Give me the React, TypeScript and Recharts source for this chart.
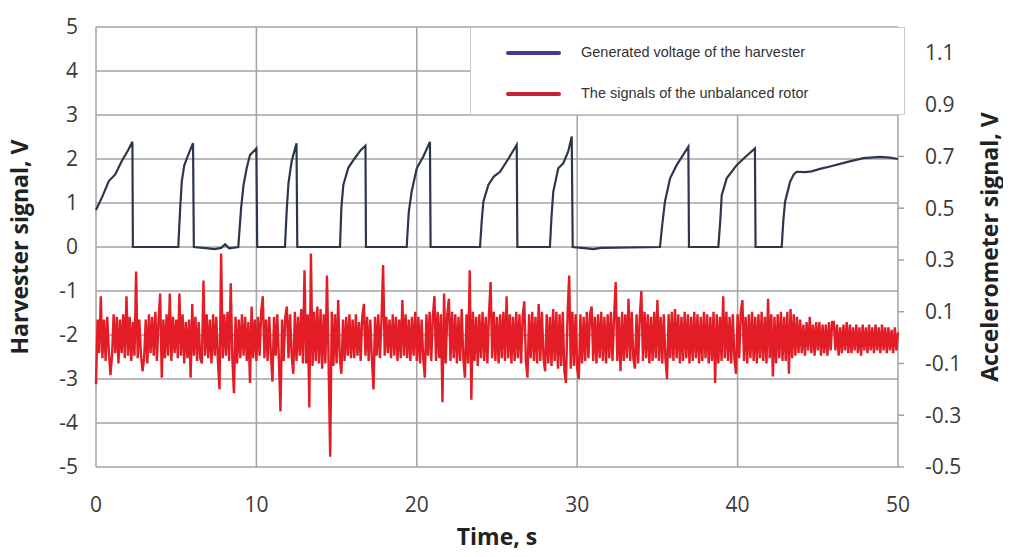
import React from 'react';
import { ComposedChart, Line, XAxis, YAxis, CartesianGrid, Legend, Label } from 'recharts';

const timeTicks = [0, 10, 20, 30, 40, 50];
const harvesterTicks = [-5, -4, -3, -2, -1, 0, 1, 2, 3, 4, 5];
const accelTicks = [-0.5, -0.3, -0.1, 0.1, 0.3, 0.5, 0.7, 0.9, 1.1];

const seriesNames = ['Generated voltage of the harvester', 'The signals of the unbalanced rotor'];

// Harvester voltage (left axis): time [s] and voltage [V]
const harvesterTime = [
  0, 0.4, 0.8, 1.2, 1.6, 2.0, 2.27, 2.3,
  5.13, 5.25, 5.35, 5.5, 5.7, 6.05, 6.1,
  7.0, 7.4, 7.8, 8.05, 8.3,
  8.87, 9.05, 9.2, 9.4, 9.6, 10.0, 10.05,
  11.78, 11.9, 12.0, 12.2, 12.5, 12.55,
  15.21, 15.3, 15.42, 15.73, 16.1, 16.5, 16.8, 16.83,
  19.37, 19.5, 19.68, 20.0, 20.4, 20.82, 20.86,
  23.94, 24.05, 24.15, 24.46, 24.8, 25.19, 25.7, 26.23, 26.27,
  28.3, 28.4, 28.51, 28.82, 29.13, 29.44, 29.66, 29.72,
  30.6, 31.0, 31.5,
  35.16, 35.3, 35.47, 35.79, 36.2, 36.93, 36.97,
  38.8, 38.92, 39.01, 39.32, 39.94, 40.5, 41.08, 41.12,
  42.75, 42.85, 42.96, 43.27, 43.5, 43.68, 44.2, 44.61, 45.2, 45.76, 46.8, 47.84, 48.88, 49.5, 50,
];
const harvesterVoltage = [
  0.84, 1.15, 1.5, 1.65, 1.95, 2.2, 2.39, 0,
  0, 0.9, 1.5, 1.85, 2.05, 2.36, 0,
  -0.03, -0.05, -0.02, 0.06, -0.03,
  0, 0.9, 1.41, 1.8, 2.09, 2.24, 0,
  0, 0.9, 1.45, 1.95, 2.36, 0,
  0, 0.9, 1.41, 1.8, 2.0, 2.2, 2.3, 0,
  0, 0.8, 1.26, 1.79, 2.05, 2.39, 0,
  0, 0.6, 1.03, 1.41, 1.6, 1.71, 2.0, 2.32, 0,
  0, 0.7, 1.26, 1.79, 1.9, 2.17, 2.51, 0,
  -0.03, -0.05, -0.02,
  0, 0.5, 1.03, 1.56, 1.86, 2.28, 0,
  0, 0.6, 1.18, 1.56, 1.86, 2.05, 2.24, 0,
  0, 0.6, 1.03, 1.48, 1.65, 1.71, 1.7, 1.72, 1.78, 1.83, 1.93, 2.02, 2.05, 2.03, 2.0,
];

// Accelerometer signal (right axis), sampled every 0.1 s from 0 to 50 s
const accelSamplesPerSecond = 10;
const accelSignal = [
  -0.18, 0.07, -0.06, 0.16, -0.08, 0.07, -0.09, 0.08, -0.05, -0.145,
  -0.07, 0.09, -0.06, 0.08, -0.1, 0.07, -0.06, 0.09, -0.08, 0.16,
  -0.07, 0.08, -0.09, 0.06, -0.07, 0.255, -0.08, 0.07, -0.06, -0.13,
  -0.08, 0.07, -0.1, 0.09, -0.06, 0.08, -0.07, 0.1, -0.09, 0.07,
  0.17, -0.155, 0.07, -0.08, 0.09, -0.07, 0.17, -0.09, 0.08, -0.06,
  0.07, -0.08, 0.17, -0.07, 0.09, -0.1, 0.06, -0.08, 0.07, -0.155,
  0.13, -0.07, 0.08, -0.09, 0.06, -0.08, -0.1, 0.22, -0.07, 0.09,
  -0.08, 0.07, -0.1, 0.09, -0.07, 0.08, -0.09, -0.2, 0.325, -0.08,
  0.09, -0.07, 0.1, -0.09, 0.21, -0.08, -0.215, 0.08, -0.1, 0.07,
  -0.08, 0.09, -0.07, 0.08, -0.09, 0.06, -0.175, 0.12, -0.08, 0.07,
  -0.09, 0.08, -0.07, 0.1, 0.16, -0.08, 0.07, -0.09, 0.08, -0.06,
  -0.17, 0.08, -0.07, 0.09, -0.08, -0.285, 0.07, -0.09, 0.08, 0.12,
  -0.08, 0.09, -0.07, -0.14, 0.1, -0.09, 0.08, -0.07, 0.11, -0.1,
  0.26, -0.1, 0.09, -0.27, 0.325, -0.11, 0.1, -0.09, 0.12, -0.1,
  0.11, -0.12, 0.09, -0.1, 0.24, -0.09, -0.46, 0.1, -0.11, 0.09,
  -0.1, 0.145, -0.08, -0.14, 0.07, -0.09, 0.08, -0.07, 0.09, -0.08,
  0.07, -0.08, 0.09, -0.07, 0.06, -0.09, 0.08, 0.13, -0.07, 0.08,
  -0.09, 0.07, -0.08, -0.2, 0.08, -0.07, 0.09, -0.08, 0.07, 0.28,
  -0.07, 0.08, -0.06, 0.07, -0.08, 0.09, -0.07, 0.08, -0.09, 0.07,
  -0.08, 0.145, -0.07, 0.09, -0.08, 0.07, -0.09, 0.08, -0.07, 0.1,
  -0.09, 0.08, -0.1, 0.07, -0.08, -0.155, 0.09, -0.07, 0.1, -0.09,
  0.08, 0.16, -0.09, 0.1, -0.08, 0.09, -0.25, 0.17, -0.1, 0.09,
  0.15, -0.09, 0.1, -0.08, 0.09, -0.1, 0.08, -0.09, 0.11, -0.08,
  -0.155, 0.09, -0.1, 0.26, -0.24, 0.1, -0.09, 0.08, -0.11, 0.09,
  -0.08, 0.1, -0.09, 0.08, -0.1, 0.09, 0.215, -0.08, 0.1, -0.09,
  0.08, -0.1, 0.09, -0.08, 0.1, -0.09, 0.16, -0.08, 0.09, -0.1,
  0.08, -0.09, 0.1, -0.08, 0.09, -0.1, 0.08, 0.14, -0.09, -0.155,
  0.09, -0.08, 0.1, -0.09, 0.08, -0.1, 0.13, -0.09, 0.1, -0.08,
  -0.13, 0.09, -0.1, 0.08, -0.11, 0.11, -0.09, 0.1, -0.12, 0.09,
  -0.11, 0.1, -0.13, -0.175, 0.09, 0.24, -0.12, 0.1, -0.11, 0.09,
  -0.12, -0.16, 0.09, -0.1, 0.08, -0.09, 0.1, -0.08, 0.09, 0.12,
  -0.09, 0.08, -0.1, 0.09, -0.08, 0.1, -0.09, 0.08, -0.1, 0.09,
  -0.08, 0.1, -0.09, 0.08, 0.215, -0.09, 0.08, -0.13, 0.1, -0.09,
  0.09, -0.08, 0.15, -0.09, 0.1, -0.08, -0.12, 0.09, -0.1, 0.08,
  0.18, -0.09, 0.1, -0.08, 0.09, -0.1, 0.08, -0.09, 0.1, -0.08,
  0.145, -0.09, 0.08, -0.1, 0.09, -0.08, -0.16, 0.09, -0.08, 0.1,
  -0.09, 0.11, -0.08, 0.09, -0.1, 0.08, -0.09, 0.1, -0.08, 0.09,
  -0.1, 0.08, -0.09, 0.1, -0.08, 0.09, -0.1, 0.08, -0.09, 0.1,
  -0.08, 0.09, -0.1, 0.08, -0.09, 0.1, -0.175, 0.09, -0.1, 0.08,
  -0.09, 0.16, -0.08, 0.1, -0.09, 0.08, -0.1, 0.09, -0.08, -0.14,
  0.09, -0.08, 0.1, 0.145, -0.09, 0.08, -0.1, 0.09, -0.08, 0.1,
  -0.09, 0.08, -0.1, 0.09, -0.08, 0.1, -0.09, 0.08, -0.1, 0.15,
  -0.08, 0.09, -0.15, 0.08, -0.1, 0.09, -0.08, 0.1, -0.09, 0.08,
  -0.09, 0.1, -0.14, 0.11, -0.08, 0.09, -0.07, 0.08, -0.06, 0.07,
  -0.06, 0.05, -0.07, 0.06, -0.05, 0.08, -0.06, 0.05, -0.07, 0.06,
  -0.05, 0.06, -0.07, 0.05, -0.06, 0.05, -0.07, 0.06, -0.05, 0.06,
  0.06, -0.05, 0.05, -0.07, 0.04, -0.06, 0.05, -0.05, 0.06, -0.06,
  0.05, -0.06, 0.04, -0.05, 0.05, -0.06, 0.04, -0.07, 0.05, -0.05,
  0.04, -0.06, 0.05, -0.05, 0.04, -0.06, 0.05, -0.05, 0.04, -0.06,
  0.05, -0.05, 0.04, -0.06, 0.04, -0.05, 0.03, -0.06, 0.04, -0.05,
  0.02,
];

const harvesterData = harvesterTime.map((t, i) => ({ t, v: harvesterVoltage[i] }));
const accelData = accelSignal.map((a, i) => ({ t: i / accelSamplesPerSecond, a }));

const tickFont = { fontFamily: '"Open Sans", sans-serif', fontSize: 21, fill: '#3a3a3a' };
const titleStyle = { fontFamily: '"Open Sans", sans-serif', fontSize: 23, fontWeight: 700, fill: '#222', textAnchor: 'middle' as const };

const LegendBox = () => (
  <div
    style={{
      width: 435,
      height: 88,
      background: '#fff',
      border: '1px solid #c9c9c9',
      boxSizing: 'border-box',
      position: 'relative',
      fontFamily: '"Liberation Sans", Arial, sans-serif',
      fontSize: 14.5,
      color: '#333',
    }}
  >
    <div style={{ position: 'absolute', left: 35, top: 23, width: 55, height: 4, background: '#46388a', borderRadius: 2 }} />
    <div style={{ position: 'absolute', left: 110, top: 15, lineHeight: '18px', whiteSpace: 'nowrap' }}>{seriesNames[0]}</div>
    <div style={{ position: 'absolute', left: 35, top: 64, width: 55, height: 4, background: '#c81f36', borderRadius: 2 }} />
    <div style={{ position: 'absolute', left: 110, top: 56, lineHeight: '18px', whiteSpace: 'nowrap' }}>{seriesNames[1]}</div>
  </div>
);

export default function App() {
  return (
    <div style={{ margin: -8, width: 1011, height: 557, background: '#fff' }}>
      <ComposedChart width={1011} height={557} margin={{ top: 27, right: 13, bottom: 50, left: 16 }}>
        <CartesianGrid yAxisId="left" stroke="#a3a3a3" strokeWidth={1.5} />
        <XAxis
          dataKey="t"
          type="number"
          domain={[0, 50]}
          ticks={timeTicks}
          tickLine={false}
          axisLine={false}
          tickMargin={24}
          height={40}
          tick={tickFont}
        >
          <Label value="Time, s" position="bottom" offset={22} style={titleStyle} />
        </XAxis>
        <YAxis
          yAxisId="left"
          orientation="left"
          width={80}
          type="number"
          domain={[-5, 5]}
          ticks={harvesterTicks}
          tickLine={false}
          axisLine={false}
          tickMargin={12}
          tick={tickFont}
        >
          <Label value="Harvester signal, V" angle={-90} position="insideLeft" offset={4} style={titleStyle} />
        </YAxis>
        <YAxis
          yAxisId="right"
          orientation="right"
          width={100}
          type="number"
          domain={[-0.5, 1.2]}
          ticks={accelTicks}
          tickLine={{ stroke: '#a3a3a3', strokeWidth: 1.5 }}
          axisLine={false}
          tickSize={6}
          tickMargin={21}
          tick={tickFont}
        >
          <Label value="Accelerometer signal, V" angle={-90} position="insideRight" offset={8} style={titleStyle} />
        </YAxis>
        <Line
          yAxisId="right"
          data={accelData}
          dataKey="a"
          name={seriesNames[1]}
          stroke="#e31d25"
          strokeWidth={2.4}
          dot={false}
          activeDot={false}
          isAnimationActive={false}
        />
        <Line
          yAxisId="left"
          data={harvesterData}
          dataKey="v"
          name={seriesNames[0]}
          stroke="#2d374c"
          strokeWidth={2.2}
          dot={false}
          activeDot={false}
          isAnimationActive={false}
        />
        <Legend
          layout="horizontal"
          verticalAlign="middle"
          align="center"
          wrapperStyle={{ position: 'absolute', left: 470, top: 27, width: 435, height: 88 }}
          content={() => <LegendBox />}
        />
      </ComposedChart>
    </div>
  );
}
